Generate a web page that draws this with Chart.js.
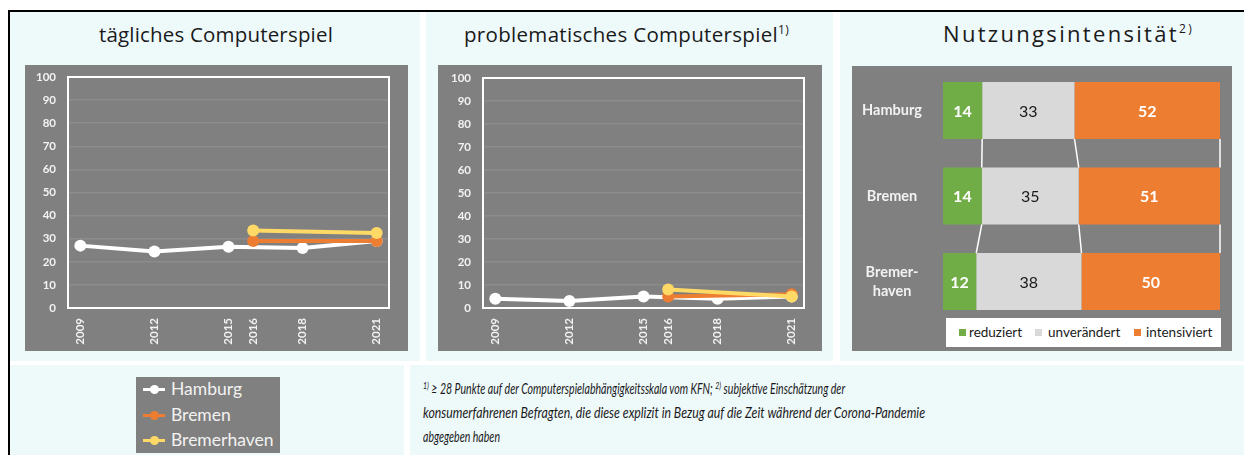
<!DOCTYPE html>
<html><head><meta charset="utf-8">
<script src="https://cdn.jsdelivr.net/npm/chart.js@4/dist/chart.umd.min.js"></script>
<style>
html,body{margin:0;padding:0}
body{width:1244px;height:455px;position:relative;background:#fff;overflow:hidden;font-family:Lato,"Open Sans",sans-serif;color:#1a1a1a}
.abs{position:absolute}
.panel{position:absolute;background:#EEF9FA}
.title{position:absolute;font-family:"Open Sans",Lato,sans-serif;font-size:20.5px;line-height:23px;white-space:nowrap;color:#1a1a1a}
.title sup{font-size:12px;line-height:12px;vertical-align:top;position:relative;top:1px}
canvas{position:absolute;background:#808080}
.lg1{position:absolute;left:136px;top:377px;width:144px;height:76px;background:#808080}
.lg1 .row{position:absolute;left:0;height:24px;line-height:24px;color:#F2F2F2;font-size:17.5px;white-space:nowrap}
.lg1 .ln{position:absolute;left:7px;top:11px;width:22px;height:3px}
.lg1 .dt{position:absolute;left:14px;top:8px;width:9px;height:9px;border-radius:50%}
.lg1 .tx{position:absolute;left:35px;top:0}
.lg3{position:absolute;left:946px;top:318px;width:275px;height:29px;background:#fff;font-size:13.5px;color:#1a1a1a}
.lg3 .sq{position:absolute;top:11px;width:7px;height:7px}
.lg3 .tx{position:absolute;top:0;line-height:29px;white-space:nowrap}
.foot{position:absolute;left:423px;top:377px;font-family:Lato,sans-serif;font-style:italic;font-size:14.5px;line-height:24px;color:#1a1a1a}
.foot div{white-space:nowrap;transform-origin:0 0;width:max-content}
.foot sup{font-size:9.5px;line-height:9px;vertical-align:top;position:relative;top:4px}
</style></head><body>

<div class="abs" style="left:8px;top:10px;width:1236px;height:2px;background:#000"></div>
<div class="abs" style="left:8px;top:10px;width:2px;height:445px;background:#000"></div>

<div class="panel" style="left:10px;top:12px;width:410px;height:349px"></div>
<div class="panel" style="left:426px;top:12px;width:407px;height:349px"></div>
<div class="panel" style="left:840px;top:12px;width:404px;height:349px"></div>
<div class="panel" style="left:10px;top:365px;width:394px;height:90px"></div>
<div class="panel" style="left:410px;top:365px;width:834px;height:90px"></div>

<div class="title" id="t1" style="left:99px;top:22.5px">tägliches Computerspiel</div>
<div class="title" id="t2" style="left:464px;top:22.5px">problematisches Computerspiel<sup>1)</sup></div>
<div class="title" id="t3" style="left:943px;top:21.5px;font-size:22px">Nutzungsintensität<sup>2)</sup></div>

<canvas id="c1" width="383" height="286" style="left:25px;top:65px"></canvas>
<canvas id="c2" width="384" height="286" style="left:438px;top:65px"></canvas>
<canvas id="c3" width="380" height="285" style="left:852px;top:66px"></canvas>

<div class="lg1" id="lg1"></div>
<div class="lg3" id="lg3"></div>

<div class="foot" id="foot"><div id="fl1"><sup>1)</sup> ≥ 28 Punkte auf der Computerspielabhängigkeitsskala vom KFN; <sup>2)</sup> subjektive Einschätzung der</div><div id="fl2">konsumerfahrenen Befragten, die diese explizit in Bezug auf die Zeit während der Corona-Pandemie</div><div id="fl3">abgegeben haben</div></div>

<script>
// ---------- data ----------
const yearTicks = [2009, 2012, 2015, 2016, 2018, 2021];
const hamburgYears = [2009, 2012, 2015, 2018, 2021];
const bremenYears = [2016, 2021];
const seriesNames = ['Hamburg', 'Bremen', 'Bremerhaven'];
const seriesColors = ['#FFFFFF', '#ED7D31', '#FFD966'];

const dailyHamburg = [27, 24.5, 26.5, 26, 29];
const dailyBremen = [29, 29];
const dailyBremerhaven = [33.5, 32.5];

const problemHamburg = [4, 3, 5, 4, 5];
const problemBremen = [5, 6];
const problemBremerhaven = [8, 5];

const percentTicks = [0, 10, 20, 30, 40, 50, 60, 70, 80, 90, 100];

const cityLabels = ['Hamburg', 'Bremen', ['Bremer-', 'haven']];
const intensityNames = ['reduziert', 'unverändert', 'intensiviert'];
const intensityColors = ['#70AD47', '#D9D9D9', '#ED7D31'];
const reduziert = [14, 14, 12];
const unveraendert = [33, 35, 38];
const intensiviert = [52, 51, 50];

// ---------- helpers ----------
const tickFont = {family: 'Lato', weight: 'bold', size: 11.5};
function noPad(s) { s.paddingTop = 0; s.paddingBottom = 0; s.paddingLeft = 0; s.paddingRight = 0; }
const frame = {
  id: 'frame',
  beforeDatasetsDraw(c) {
    const a = c.chartArea, ctx = c.ctx;
    ctx.save(); ctx.strokeStyle = '#FFFFFF'; ctx.lineWidth = 2;
    ctx.strokeRect(a.left, a.top, a.right - a.left, a.bottom - a.top);
    ctx.restore();
  }
};
function pts(xs, ys) { return xs.map((x, i) => ({x: x, y: ys[i]})); }

function lineChart(id, h, b, bh, pad) {
  return new Chart(document.getElementById(id), {
    type: 'line',
    data: {datasets: [
      {label: seriesNames[0], data: pts(hamburgYears, h), borderColor: seriesColors[0], backgroundColor: seriesColors[0], order: 3},
      {label: seriesNames[1], data: pts(bremenYears, b), borderColor: seriesColors[1], backgroundColor: seriesColors[1], order: 2},
      {label: seriesNames[2], data: pts(bremenYears, bh), borderColor: seriesColors[2], backgroundColor: seriesColors[2], order: 1}
    ]},
    options: {
      responsive: false, animation: false, events: [],
      layout: {padding: {top: pad.top, right: pad.right, left: 0, bottom: 0}},
      elements: {line: {borderWidth: 4, tension: 0}, point: {radius: 6, hoverRadius: 6, borderWidth: 0}},
      plugins: {legend: {display: false}, tooltip: {enabled: false}},
      scales: {
        x: {type: 'linear', min: 2008.5, max: 2021.5,
            afterBuildTicks: s => { s.ticks = yearTicks.map(v => ({value: v})); },
            afterFit: s => { s.height = pad.bottom; noPad(s); },
            grid: {display: false, drawTicks: false}, border: {display: false},
            ticks: {color: '#F2F2F2', font: tickFont, minRotation: 90, maxRotation: 90, padding: 10, autoSkip: false, callback: v => String(v)}},
        y: {min: 0, max: 100,
            afterBuildTicks: s => { s.ticks = percentTicks.map(v => ({value: v})); },
            afterFit: s => { s.width = pad.left; noPad(s); },
            grid: {color: '#8C8C8C', lineWidth: 1.5, drawTicks: false}, border: {display: false},
            ticks: {color: '#F2F2F2', font: tickFont, padding: 12}}
      }
    },
    plugins: [frame]
  });
}

lineChart('c1', dailyHamburg, dailyBremen, dailyBremerhaven, {left: 43, right: 19, top: 12, bottom: 43});
lineChart('c2', problemHamburg, problemBremen, problemBremerhaven, {left: 45, right: 18, top: 13, bottom: 43});

// ---------- 100% stacked bar ----------
const rawRows = [reduziert, unveraendert, intensiviert];
const rowSums = cityLabels.map((_, j) => rawRows.reduce((s, r) => s + r[j], 0));
const seriesLines = {
  id: 'seriesLines',
  afterDatasetsDraw(c) {
    const ctx = c.ctx; ctx.save(); ctx.strokeStyle = '#FFFFFF'; ctx.lineWidth = 1.5; ctx.beginPath();
    for (let k = 0; k < c.data.datasets.length; k++) {
      const els = c.getDatasetMeta(k).data;
      for (let j = 0; j < els.length - 1; j++) {
        const a = els[j], b = els[j + 1];
        ctx.moveTo(a.x, a.y + a.height / 2); ctx.lineTo(b.x, b.y - b.height / 2);
      }
    }
    ctx.stroke(); ctx.restore();
  }
};
const barLabels = {
  id: 'barLabels',
  afterDatasetsDraw(c) {
    const ctx = c.ctx; ctx.save(); ctx.textAlign = 'center'; ctx.textBaseline = 'middle';
    c.data.datasets.forEach((ds, k) => {
      const gray = k === 1;
      ctx.font = (gray ? '' : 'bold ') + '16px Lato';
      ctx.fillStyle = gray ? '#1a1a1a' : '#FFFFFF';
      c.getDatasetMeta(k).data.forEach((el, j) => {
        ctx.fillText(String(ds.raw[j]), (el.x + el.base) / 2, el.y + 1);
      });
    });
    ctx.restore();
  }
};
new Chart(document.getElementById('c3'), {
  type: 'bar',
  data: {
    labels: cityLabels,
    datasets: rawRows.map((r, k) => ({
      label: intensityNames[k], raw: r,
      data: r.map((v, j) => v / rowSums[j] * 100),
      backgroundColor: intensityColors[k], borderWidth: 0,
      barPercentage: 1, categoryPercentage: 57 / 85.5
    }))
  },
  options: {
    indexAxis: 'y', responsive: false, animation: false, events: [],
    layout: {padding: {top: 1.75, right: 12, bottom: 26.75, left: 0}},
    plugins: {legend: {display: false}, tooltip: {enabled: false}},
    scales: {
      x: {stacked: true, min: 0, max: 100, display: false, afterFit: noPad},
      y: {stacked: true, grid: {display: false}, border: {display: false},
          afterFit: s => { s.width = 91; noPad(s); },
          ticks: {color: '#F2F2F2', crossAlign: 'center', padding: 13, font: {family: 'Lato', weight: 'bold', size: 14.5, lineHeight: 1.3}}}
    }
  },
  plugins: [seriesLines, barLabels]
});

// ---------- legends (HTML) ----------
const lg1 = document.getElementById('lg1');
seriesNames.forEach((n, i) => {
  const row = document.createElement('div');
  row.className = 'row'; row.style.top = (i * 25.5) + 'px'; row.style.width = '144px';
  row.innerHTML = '<span class="ln" style="background:' + seriesColors[i] + '"></span><span class="dt" style="background:' + seriesColors[i] + '"></span><span class="tx">' + n + '</span>';
  lg1.appendChild(row);
});
const lg3 = document.getElementById('lg3');
const sqX = [13, 89, 188], txX = [23, 102, 200];
intensityNames.forEach((n, i) => {
  lg3.insertAdjacentHTML('beforeend', '<span class="sq" style="left:' + sqX[i] + 'px;background:' + intensityColors[i] + '"></span><span class="tx" style="left:' + txX[i] + 'px">' + n + '</span>');
});

// ---------- fit text widths to the reference ----------
function spreadTo(id, target) {
  const el = document.getElementById(id);
  const w = el.getBoundingClientRect().width;
  const n = el.textContent.length;
  el.style.letterSpacing = ((target - w) / n) + 'px';
}
spreadTo('t1', 234); spreadTo('t2', 325); spreadTo('t3', 251);
function squeezeTo(id, target) {
  const el = document.getElementById(id);
  const w = el.getBoundingClientRect().width;
  el.style.transform = 'scaleX(' + (target / w) + ')';
}
squeezeTo('fl1', 422); squeezeTo('fl2', 502); squeezeTo('fl3', 77);
</script>
</body></html>
